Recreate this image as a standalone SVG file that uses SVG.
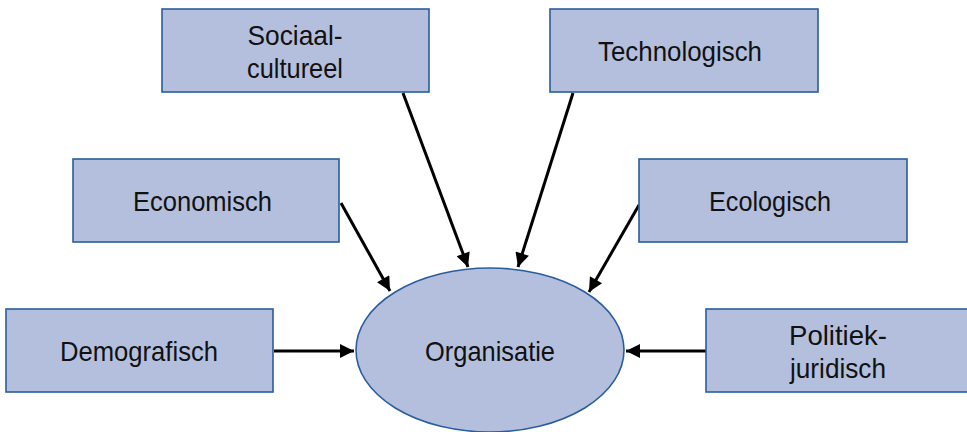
<svg xmlns="http://www.w3.org/2000/svg" width="967" height="432" viewBox="0 0 967 432">
  <style>
    .box { fill: #b4bfde; stroke: #2a5d9c; stroke-width: 1.6; }
    .lbl { font-family: "Liberation Sans", Arial, sans-serif; font-size: 28.5px; fill: #111; text-anchor: middle; }
    .conn { stroke: #000; stroke-width: 3; fill: none; marker-end: url(#head); }
  </style>
  <defs>
    <marker id="head" viewBox="0 0 10 10" refX="10" refY="5" markerUnits="userSpaceOnUse" markerWidth="18" markerHeight="14" orient="auto">
      <path d="M0,0 L10,5 L0,10 Z" fill="#000"/>
    </marker>
  </defs>
  <rect width="967" height="432" fill="#fff"/>

  <g id="connectors">
    <line class="conn" x1="403" y1="93" x2="468" y2="267"/>
    <line class="conn" x1="573" y1="93" x2="518" y2="267"/>
    <line class="conn" x1="341" y1="203" x2="390" y2="291"/>
    <line class="conn" x1="639" y1="205" x2="589" y2="292"/>
    <line class="conn" x1="274" y1="351" x2="354" y2="351"/>
    <line class="conn" x1="706" y1="351" x2="626" y2="351"/>
  </g>

  <g id="sociaal-cultureel">
    <rect class="box" x="162" y="9" width="267" height="83"/>
    <text class="lbl" x="295" y="45" textLength="95" lengthAdjust="spacingAndGlyphs">Sociaal-</text>
    <text class="lbl" x="295" y="77.5" textLength="96" lengthAdjust="spacingAndGlyphs">cultureel</text>
  </g>

  <g id="technologisch">
    <rect class="box" x="550" y="9" width="268" height="83"/>
    <text class="lbl" x="680" y="61" textLength="164" lengthAdjust="spacingAndGlyphs">Technologisch</text>
  </g>

  <g id="economisch">
    <rect class="box" x="73" y="159" width="266" height="83"/>
    <text class="lbl" x="202.5" y="211" textLength="139" lengthAdjust="spacingAndGlyphs">Economisch</text>
  </g>

  <g id="ecologisch">
    <rect class="box" x="639" y="159" width="268" height="83"/>
    <text class="lbl" x="770" y="211" textLength="122" lengthAdjust="spacingAndGlyphs">Ecologisch</text>
  </g>

  <g id="demografisch">
    <rect class="box" x="6" y="309" width="267" height="83"/>
    <text class="lbl" x="139" y="361" textLength="158" lengthAdjust="spacingAndGlyphs">Demografisch</text>
  </g>

  <g id="politiek-juridisch">
    <rect class="box" x="706" y="309" width="266" height="83"/>
    <text class="lbl" x="838" y="345" textLength="98" lengthAdjust="spacingAndGlyphs">Politiek-</text>
    <text class="lbl" x="838" y="377.5" textLength="96" lengthAdjust="spacingAndGlyphs">juridisch</text>
  </g>

  <g id="organisatie">
    <ellipse class="box" cx="490" cy="350" rx="134" ry="82"/>
    <text class="lbl" x="490" y="361" textLength="130" lengthAdjust="spacingAndGlyphs">Organisatie</text>
  </g>
</svg>
